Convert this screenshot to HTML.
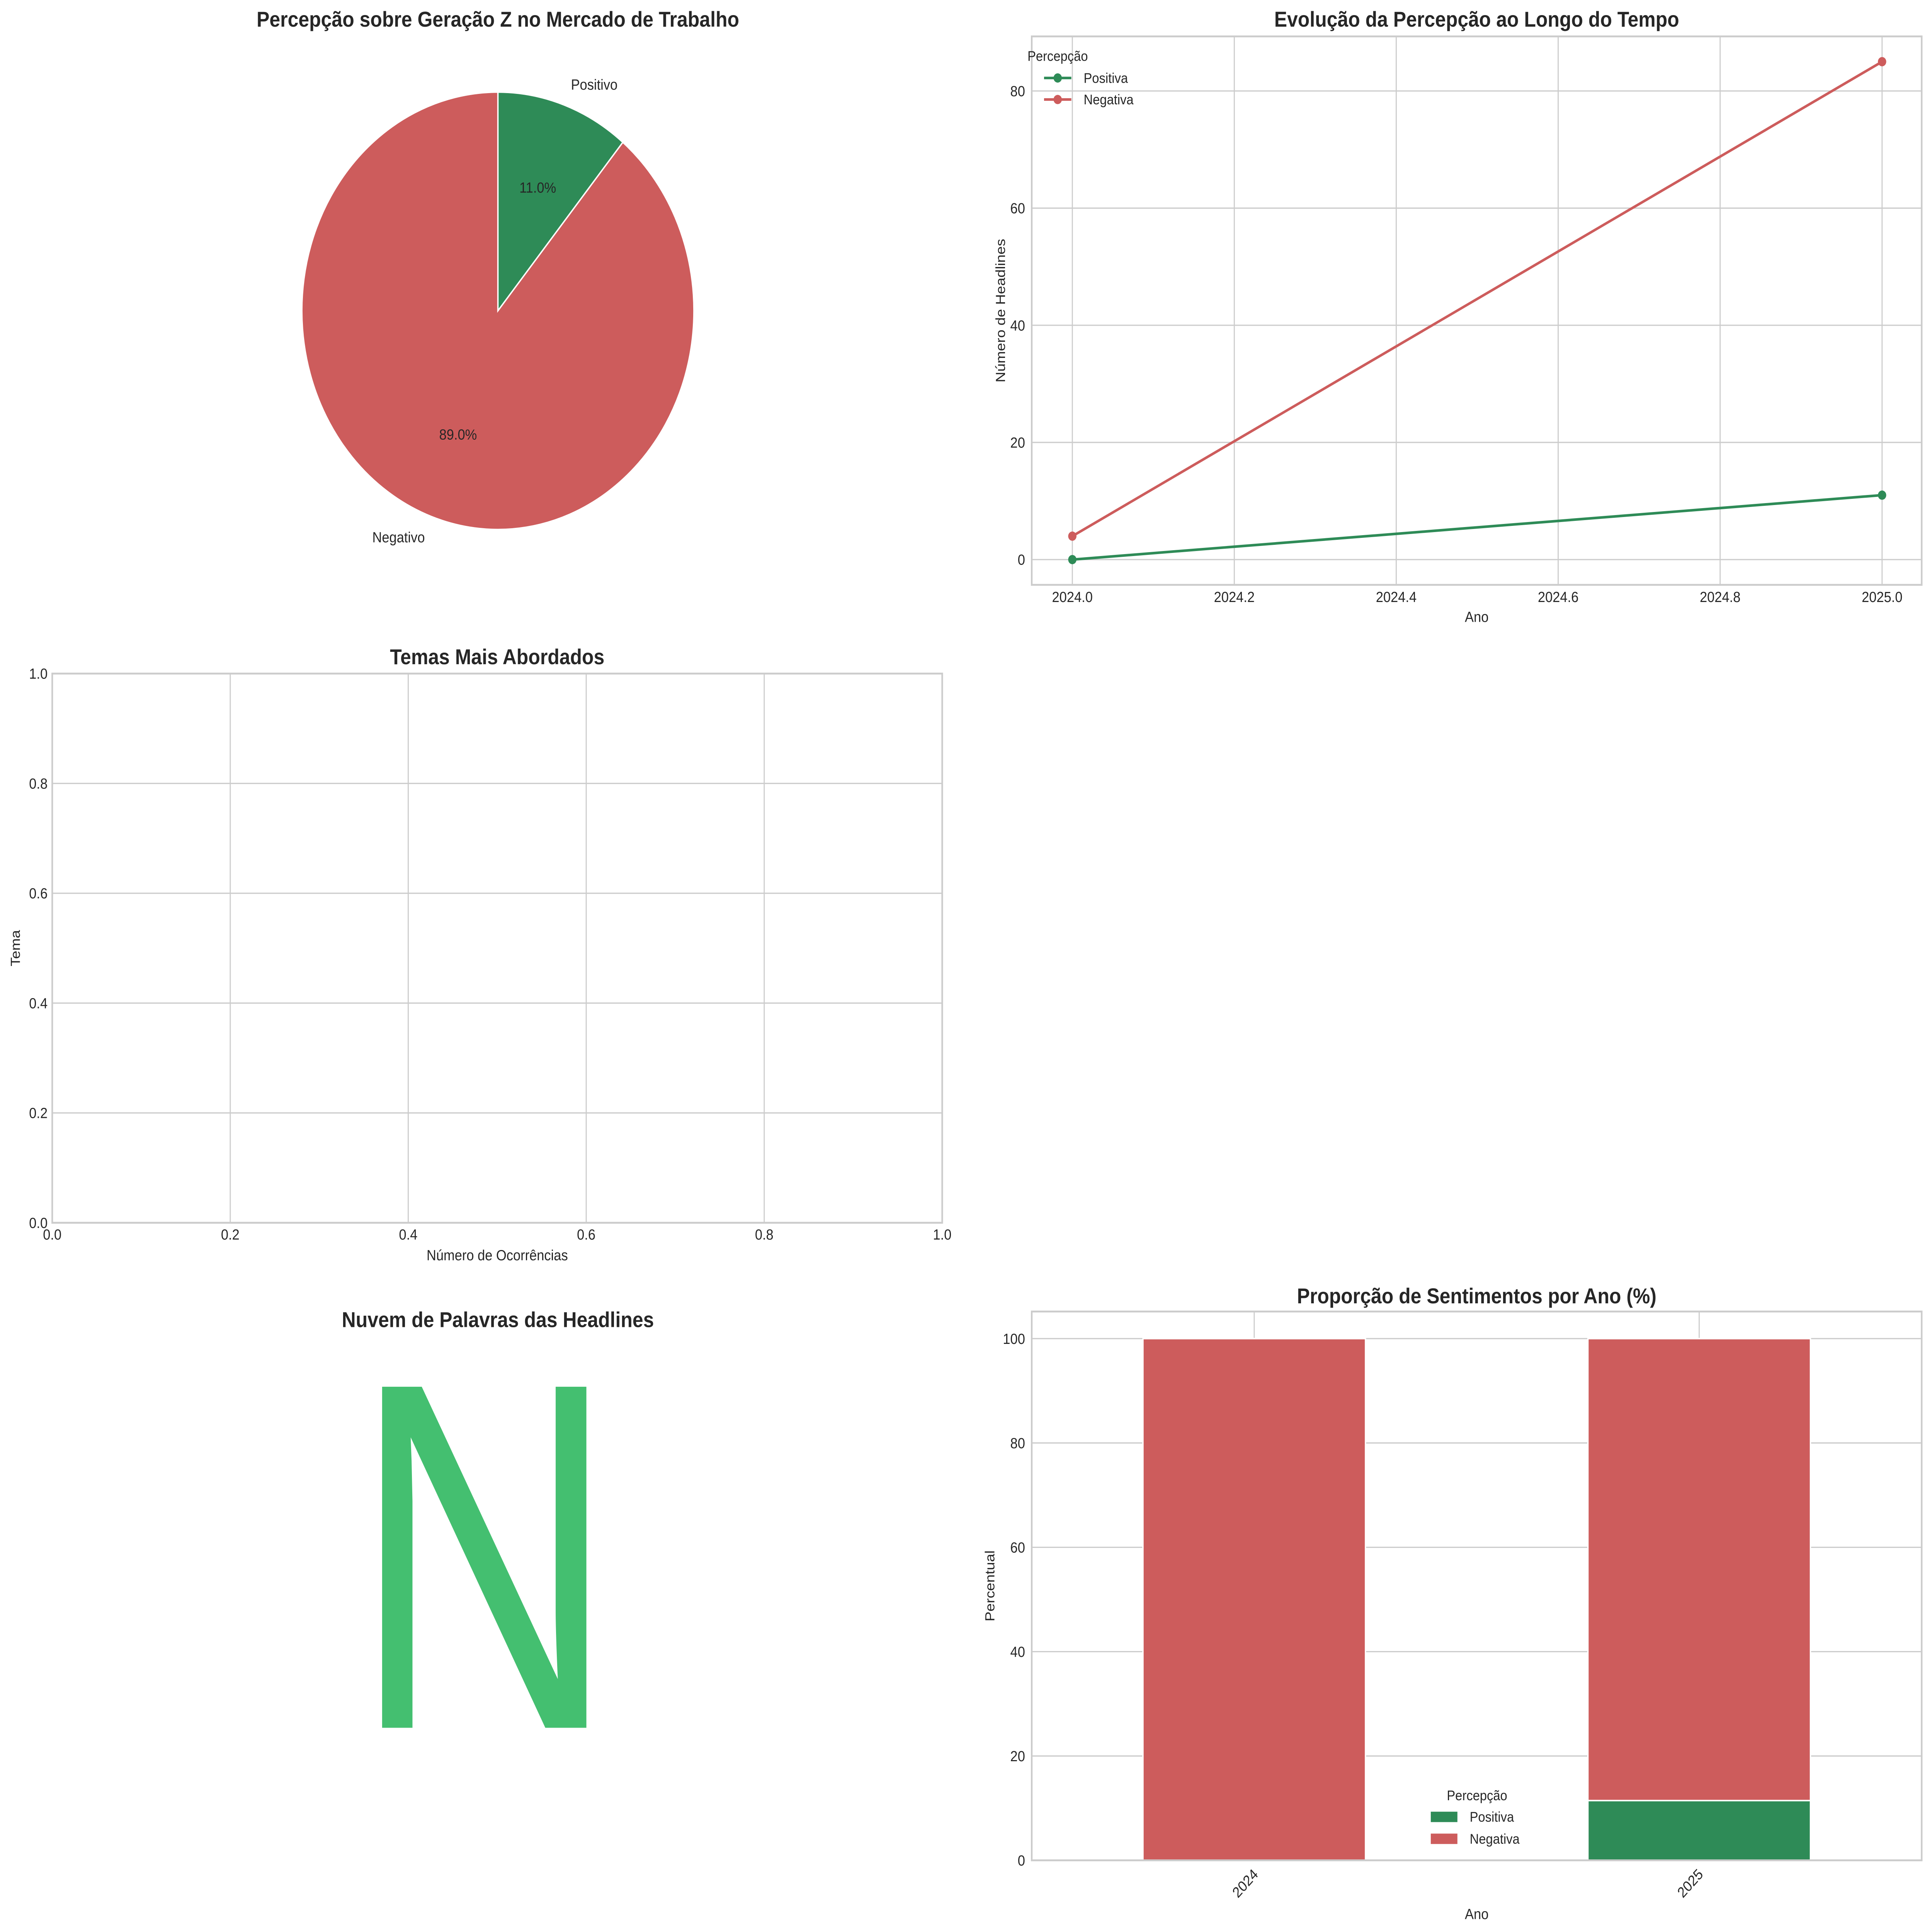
<!DOCTYPE html>
<html><head><meta charset="utf-8"><style>
html,body{margin:0;padding:0;background:#fff;width:100%;height:100%;overflow:hidden;}
svg{display:block;font-family:"Liberation Sans",Arial,sans-serif;width:100vw;height:100vh;}
</style></head><body>
<svg id="fig" viewBox="0 0 5805 5203" preserveAspectRatio="none" xmlns="http://www.w3.org/2000/svg">
<rect width="5805" height="5203" fill="#fff"/>
<g id="pie"></g>
<g id="line"></g>
<g id="temas"></g>
<g id="cloud">
  <text x="1496" y="3574" text-anchor="middle" font-size="58" font-weight="bold" fill="#262626">Nuvem de Palavras das Headlines</text>
  <text transform="translate(1058,4653) scale(0.823,1)" font-size="1335" fill="#44BF70">N</text>
</g>
<g id="bars"></g>
</svg>
<script>
// ---- data ----
const pieLabels = ["Positivo", "Negativo"];
const pieValues = [11.0, 89.0];
const lineYears = [2024, 2025];
const linePositiva = [0, 11];
const lineNegativa = [4, 85];
const lineYTicks = [0, 20, 40, 60, 80];
const lineXTicks = [2024.0, 2024.2, 2024.4, 2024.6, 2024.8, 2025.0];
const temasTicks = [0.0, 0.2, 0.4, 0.6, 0.8, 1.0];
const barCategories = ["2024", "2025"];
const barPositiva = [0, 11.46];
const barNegativa = [100, 88.54];
const barYTicks = [0, 20, 40, 60, 80, 100];

const NS = "http://www.w3.org/2000/svg";
const TXT = "#262626", GRID = "#cccccc", GREEN = "#2E8B57", RED = "#CD5C5C";
function mk(parent, tag, attrs, text) {
  const e = document.createElementNS(NS, tag);
  for (const k in attrs) e.setAttribute(k, attrs[k]);
  if (text !== undefined) e.textContent = text;
  parent.appendChild(e);
  return e;
}

// ---- pie ----
(function () {
  const g = document.getElementById('pie');
  const cx = 1496, cy = 837, r = 589;
  const t = mk(g, 'text', {x: cx, y: 72, 'text-anchor': 'middle', 'font-size': 58, 'font-weight': 'bold', fill: TXT}, 'Percepção sobre Geração Z no Mercado de Trabalho');
  
  
  const total = pieValues.reduce((a, b) => a + b, 0);
  let ang = 90;
  const cols = [GREEN, RED];
  pieValues.forEach((v, i) => {
    const sweep = v / total * 360;
    const a0 = ang * Math.PI / 180, a1 = (ang - sweep) * Math.PI / 180;
    const x0 = cx + r * Math.cos(a0), y0 = cy - r * Math.sin(a0);
    const x1 = cx + r * Math.cos(a1), y1 = cy - r * Math.sin(a1);
    const large = sweep > 180 ? 1 : 0;
    const p = mk(g, 'path', {d: `M${cx},${cy} L${x0},${y0} A${r},${r} 0 ${large} 1 ${x1},${y1} Z`, fill: cols[i], stroke: '#fff', 'stroke-width': 4});
    
    
    const mid = (ang - sweep / 2) * Math.PI / 180;
    const lx = cx + 1.1 * r * Math.cos(mid), ly = cy - 1.1 * r * Math.sin(mid);
    const lt = mk(g, 'text', {x: lx, y: ly + 14, 'text-anchor': Math.cos(mid) >= 0 ? 'start' : 'end', 'font-size': 40, fill: TXT}, pieLabels[i]);
    
    
    const px = cx + 0.6 * r * Math.cos(mid), py = cy - 0.6 * r * Math.sin(mid);
    const pt = mk(g, 'text', {x: px, y: py + 14, 'text-anchor': 'middle', 'font-size': 40, fill: TXT}, v.toFixed(1) + '%');
    
    
    ang -= sweep;
  });
})();

// ---- line chart ----
(function () {
  const g = document.getElementById('line');
  const L = 3100, R = 5774, T = 98, B = 1575;
  const xv = v => 3222 + (v - 2024) * 2433;
  const yv = v => 1507 - v * 15.775;
  lineXTicks.forEach(v => {
    const l = mk(g, 'line', {x1: xv(v), x2: xv(v), y1: T, y2: B, stroke: GRID, 'stroke-width': 3.3});
    
    
    const t = mk(g, 'text', {x: xv(v), y: 1621, 'text-anchor': 'middle', 'font-size': 40, fill: TXT}, v.toFixed(1));
    
    
  });
  lineYTicks.forEach(v => {
    const l = mk(g, 'line', {x1: L, x2: R, y1: yv(v), y2: yv(v), stroke: GRID, 'stroke-width': 3.3});
    
    
    const t = mk(g, 'text', {x: L - 20, y: yv(v) + 14, 'text-anchor': 'end', 'font-size': 40, fill: TXT}, String(v));
    
    
  });
  const fr = mk(g, 'rect', {x: L, y: T, width: R - L, height: B - T, fill: 'none', stroke: GRID, 'stroke-width': 5});
  
  
  [[linePositiva, GREEN, 'positiva'], [lineNegativa, RED, 'negativa']].forEach(([arr, c, n]) => {
    const pts = lineYears.map((y, i) => xv(y) + ',' + yv(arr[i])).join(' ');
    const pl = mk(g, 'polyline', {points: pts, fill: 'none', stroke: c, 'stroke-width': 7});
    
    
    lineYears.forEach((y, i) => {
      const m = mk(g, 'circle', {cx: xv(y), cy: yv(arr[i]), r: 12.5, fill: c});
      
      
    });
  });
  const tt = mk(g, 'text', {x: (L + R) / 2, y: 72, 'text-anchor': 'middle', 'font-size': 58, 'font-weight': 'bold', fill: TXT}, 'Evolução da Percepção ao Longo do Tempo');
  
  
  const xl = mk(g, 'text', {x: (L + R) / 2, y: 1675, 'text-anchor': 'middle', 'font-size': 40, fill: TXT}, 'Ano');
  
  
  const yl = mk(g, 'text', {x: 0, y: 0, transform: `translate(3020,${(T + B) / 2}) rotate(-90)`, 'text-anchor': 'middle', 'font-size': 40, fill: TXT}, 'Número de Headlines');
  
  
  const lg = mk(g, 'g', {});
  
  
  const lgt = mk(lg, 'text', {x: 3178, y: 164, 'text-anchor': 'middle', 'font-size': 38, fill: TXT}, 'Percepção');
  
  
  [['Positiva', GREEN, 210], ['Negativa', RED, 268]].forEach(([n, c, y]) => {
    const e = mk(lg, 'g', {});
    
    
    mk(e, 'line', {x1: 3137, x2: 3219, y1: y, y2: y, stroke: c, 'stroke-width': 7});
    mk(e, 'circle', {cx: 3178, cy: y, r: 12.5, fill: c});
    mk(e, 'text', {x: 3256, y: y + 13, 'font-size': 38, fill: TXT}, n);
  });
})();

// ---- temas (empty) ----
(function () {
  const g = document.getElementById('temas');
  const L = 157, R = 2831, T = 1814, B = 3293;
  const xv = v => L + v * (R - L), yv = v => B - v * (B - T);
  temasTicks.forEach(v => {
    const l = mk(g, 'line', {x1: xv(v), x2: xv(v), y1: T, y2: B, stroke: GRID, 'stroke-width': 3.3});
    
    
    const l2 = mk(g, 'line', {x1: L, x2: R, y1: yv(v), y2: yv(v), stroke: GRID, 'stroke-width': 3.3});
    
    
    const t = mk(g, 'text', {x: xv(v), y: 3338, 'text-anchor': 'middle', 'font-size': 40, fill: TXT}, v.toFixed(1));
    
    
    const t2 = mk(g, 'text', {x: L - 14, y: yv(v) + 14, 'text-anchor': 'end', 'font-size': 40, fill: TXT}, v.toFixed(1));
    
    
  });
  const fr = mk(g, 'rect', {x: L, y: T, width: R - L, height: B - T, fill: 'none', stroke: GRID, 'stroke-width': 5});
  
  
  const tt = mk(g, 'text', {x: (L + R) / 2, y: 1789, 'text-anchor': 'middle', 'font-size': 58, 'font-weight': 'bold', fill: TXT}, 'Temas Mais Abordados');
  
  
  const xl = mk(g, 'text', {x: (L + R) / 2, y: 3394, 'text-anchor': 'middle', 'font-size': 40, fill: TXT}, 'Número de Ocorrências');
  
  
  const yl = mk(g, 'text', {x: 0, y: 0, transform: `translate(60,${(T + B) / 2}) rotate(-90)`, 'text-anchor': 'middle', 'font-size': 40, fill: TXT}, 'Tema');
  
  
})();

// ---- stacked bars ----
(function () {
  const g = document.getElementById('bars');
  const L = 3100, R = 5774, T = 3532, B = 5010;
  const xv = i => L + (i + 0.5) * (R - L) / 2;
  const yv = v => B - v * 14.05;
  const bw = 0.5 * (R - L) / 2;
  barCategories.forEach((c, i) => {
    const l = mk(g, 'line', {x1: xv(i), x2: xv(i), y1: T, y2: B, stroke: GRID, 'stroke-width': 3.3});
    
    
  });
  barYTicks.forEach(v => {
    const l = mk(g, 'line', {x1: L, x2: R, y1: yv(v), y2: yv(v), stroke: GRID, 'stroke-width': 3.3});
    
    
    const t = mk(g, 'text', {x: L - 20, y: yv(v) + 14, 'text-anchor': 'end', 'font-size': 40, fill: TXT}, String(v));
    
    
  });
  barCategories.forEach((c, i) => {
    const p = barPositiva[i], n = barNegativa[i];
    if (p > 0) {
      const r1 = mk(g, 'rect', {x: xv(i) - bw / 2, y: yv(p), width: bw, height: yv(0) - yv(p), fill: GREEN, stroke: '#fff', 'stroke-width': 4});
      
      
    }
    const r2 = mk(g, 'rect', {x: xv(i) - bw / 2, y: yv(p + n), width: bw, height: yv(p) - yv(p + n), fill: RED, stroke: '#fff', 'stroke-width': 4});
    
    
    const t = mk(g, 'text', {x: 0, y: 0, transform: `translate(${xv(i) + 14},${B + 40}) rotate(-45)`, 'text-anchor': 'end', 'font-size': 40, fill: TXT}, c);
    
    
  });
  const fr = mk(g, 'rect', {x: L, y: T, width: R - L, height: B - T, fill: 'none', stroke: GRID, 'stroke-width': 5});
  
  
  const tt = mk(g, 'text', {x: (L + R) / 2, y: 3510, 'text-anchor': 'middle', 'font-size': 58, 'font-weight': 'bold', fill: TXT}, 'Proporção de Sentimentos por Ano (%)');
  
  
  const xl = mk(g, 'text', {x: (L + R) / 2, y: 5168, 'text-anchor': 'middle', 'font-size': 40, fill: TXT}, 'Ano');
  
  
  const yl = mk(g, 'text', {x: 0, y: 0, transform: `translate(2988,${(T + B) / 2}) rotate(-90)`, 'text-anchor': 'middle', 'font-size': 40, fill: TXT}, 'Percentual');
  
  
  const lg = mk(g, 'g', {});
  
  
  const lgt = mk(lg, 'text', {x: 4438, y: 4848, 'text-anchor': 'middle', 'font-size': 38, fill: TXT}, 'Percepção');
  
  
  [['Positiva', GREEN, 4893], ['Negativa', RED, 4952]].forEach(([n, c, y]) => {
    const e = mk(lg, 'g', {});
    
    
    mk(e, 'rect', {x: 4299, y: y - 14, width: 80, height: 28, fill: c});
    mk(e, 'text', {x: 4416, y: y + 13, 'font-size': 38, fill: TXT}, n);
  });
})();
</script>
</body></html>
